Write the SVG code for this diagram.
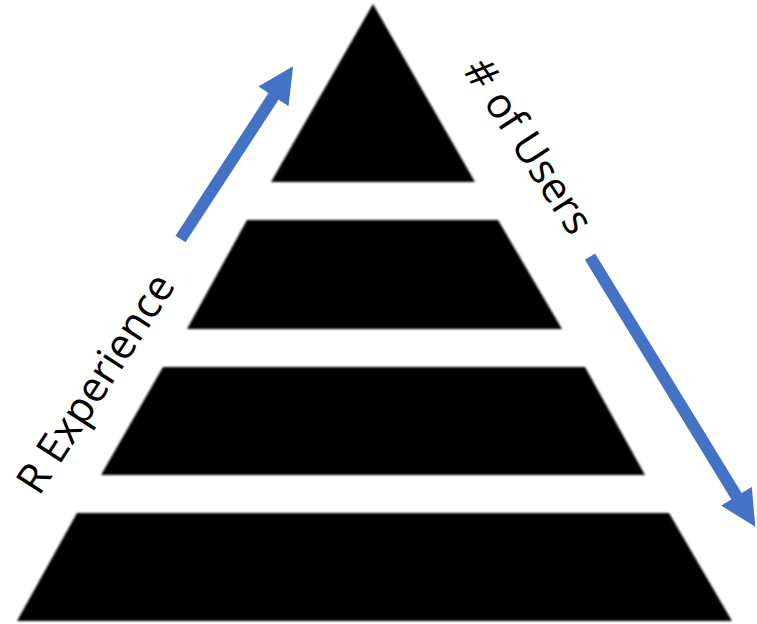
<svg xmlns="http://www.w3.org/2000/svg" width="757" height="624" viewBox="0 0 757 624">
  <style>
    .tier { fill: #000000; filter: url(#soft); }
    .arrow { stroke: #4472C4; stroke-width: 12; fill: none; }
    .lbl { font-family: "Open Sans", "Liberation Sans", sans-serif; font-size: 42px; fill: #000000; }
  </style>
  <defs>
    <filter id="soft" x="-5%" y="-5%" width="110%" height="110%">
      <feGaussianBlur stdDeviation="0.8"/>
    </filter>
    <marker id="head" viewBox="0 0 36 36" refX="1" refY="18" markerWidth="36" markerHeight="36" markerUnits="userSpaceOnUse" orient="auto">
      <path d="M0,0 L36,18 L0,36 z" fill="#4472C4"/>
    </marker>
  </defs>
  <rect width="757" height="624" fill="#ffffff"/>
  <g id="tier1"><polygon class="tier" points="373,4 475,182 271,182"/></g>
  <g id="tier2"><polygon class="tier" points="247,220 498,220 562,329 187,329"/></g>
  <g id="tier3"><polygon class="tier" points="163,367 585,367 645,475 101,475"/></g>
  <g id="tier4"><polygon class="tier" points="77,513 669,513 732,621 17,621"/></g>
  <g id="connectors">
    <line class="arrow" x1="180.5" y1="239" x2="274" y2="95.6" marker-end="url(#head)"/>
    <line class="arrow" x1="590" y1="256.7" x2="737" y2="497" marker-end="url(#head)"/>
  </g>
  <g id="label-experience">
    <text class="lbl" transform="translate(39,497) rotate(-57)">R Experience</text>
  </g>
  <g id="label-users">
    <text class="lbl" transform="translate(462,70) rotate(57)"># of Users</text>
  </g>
</svg>
